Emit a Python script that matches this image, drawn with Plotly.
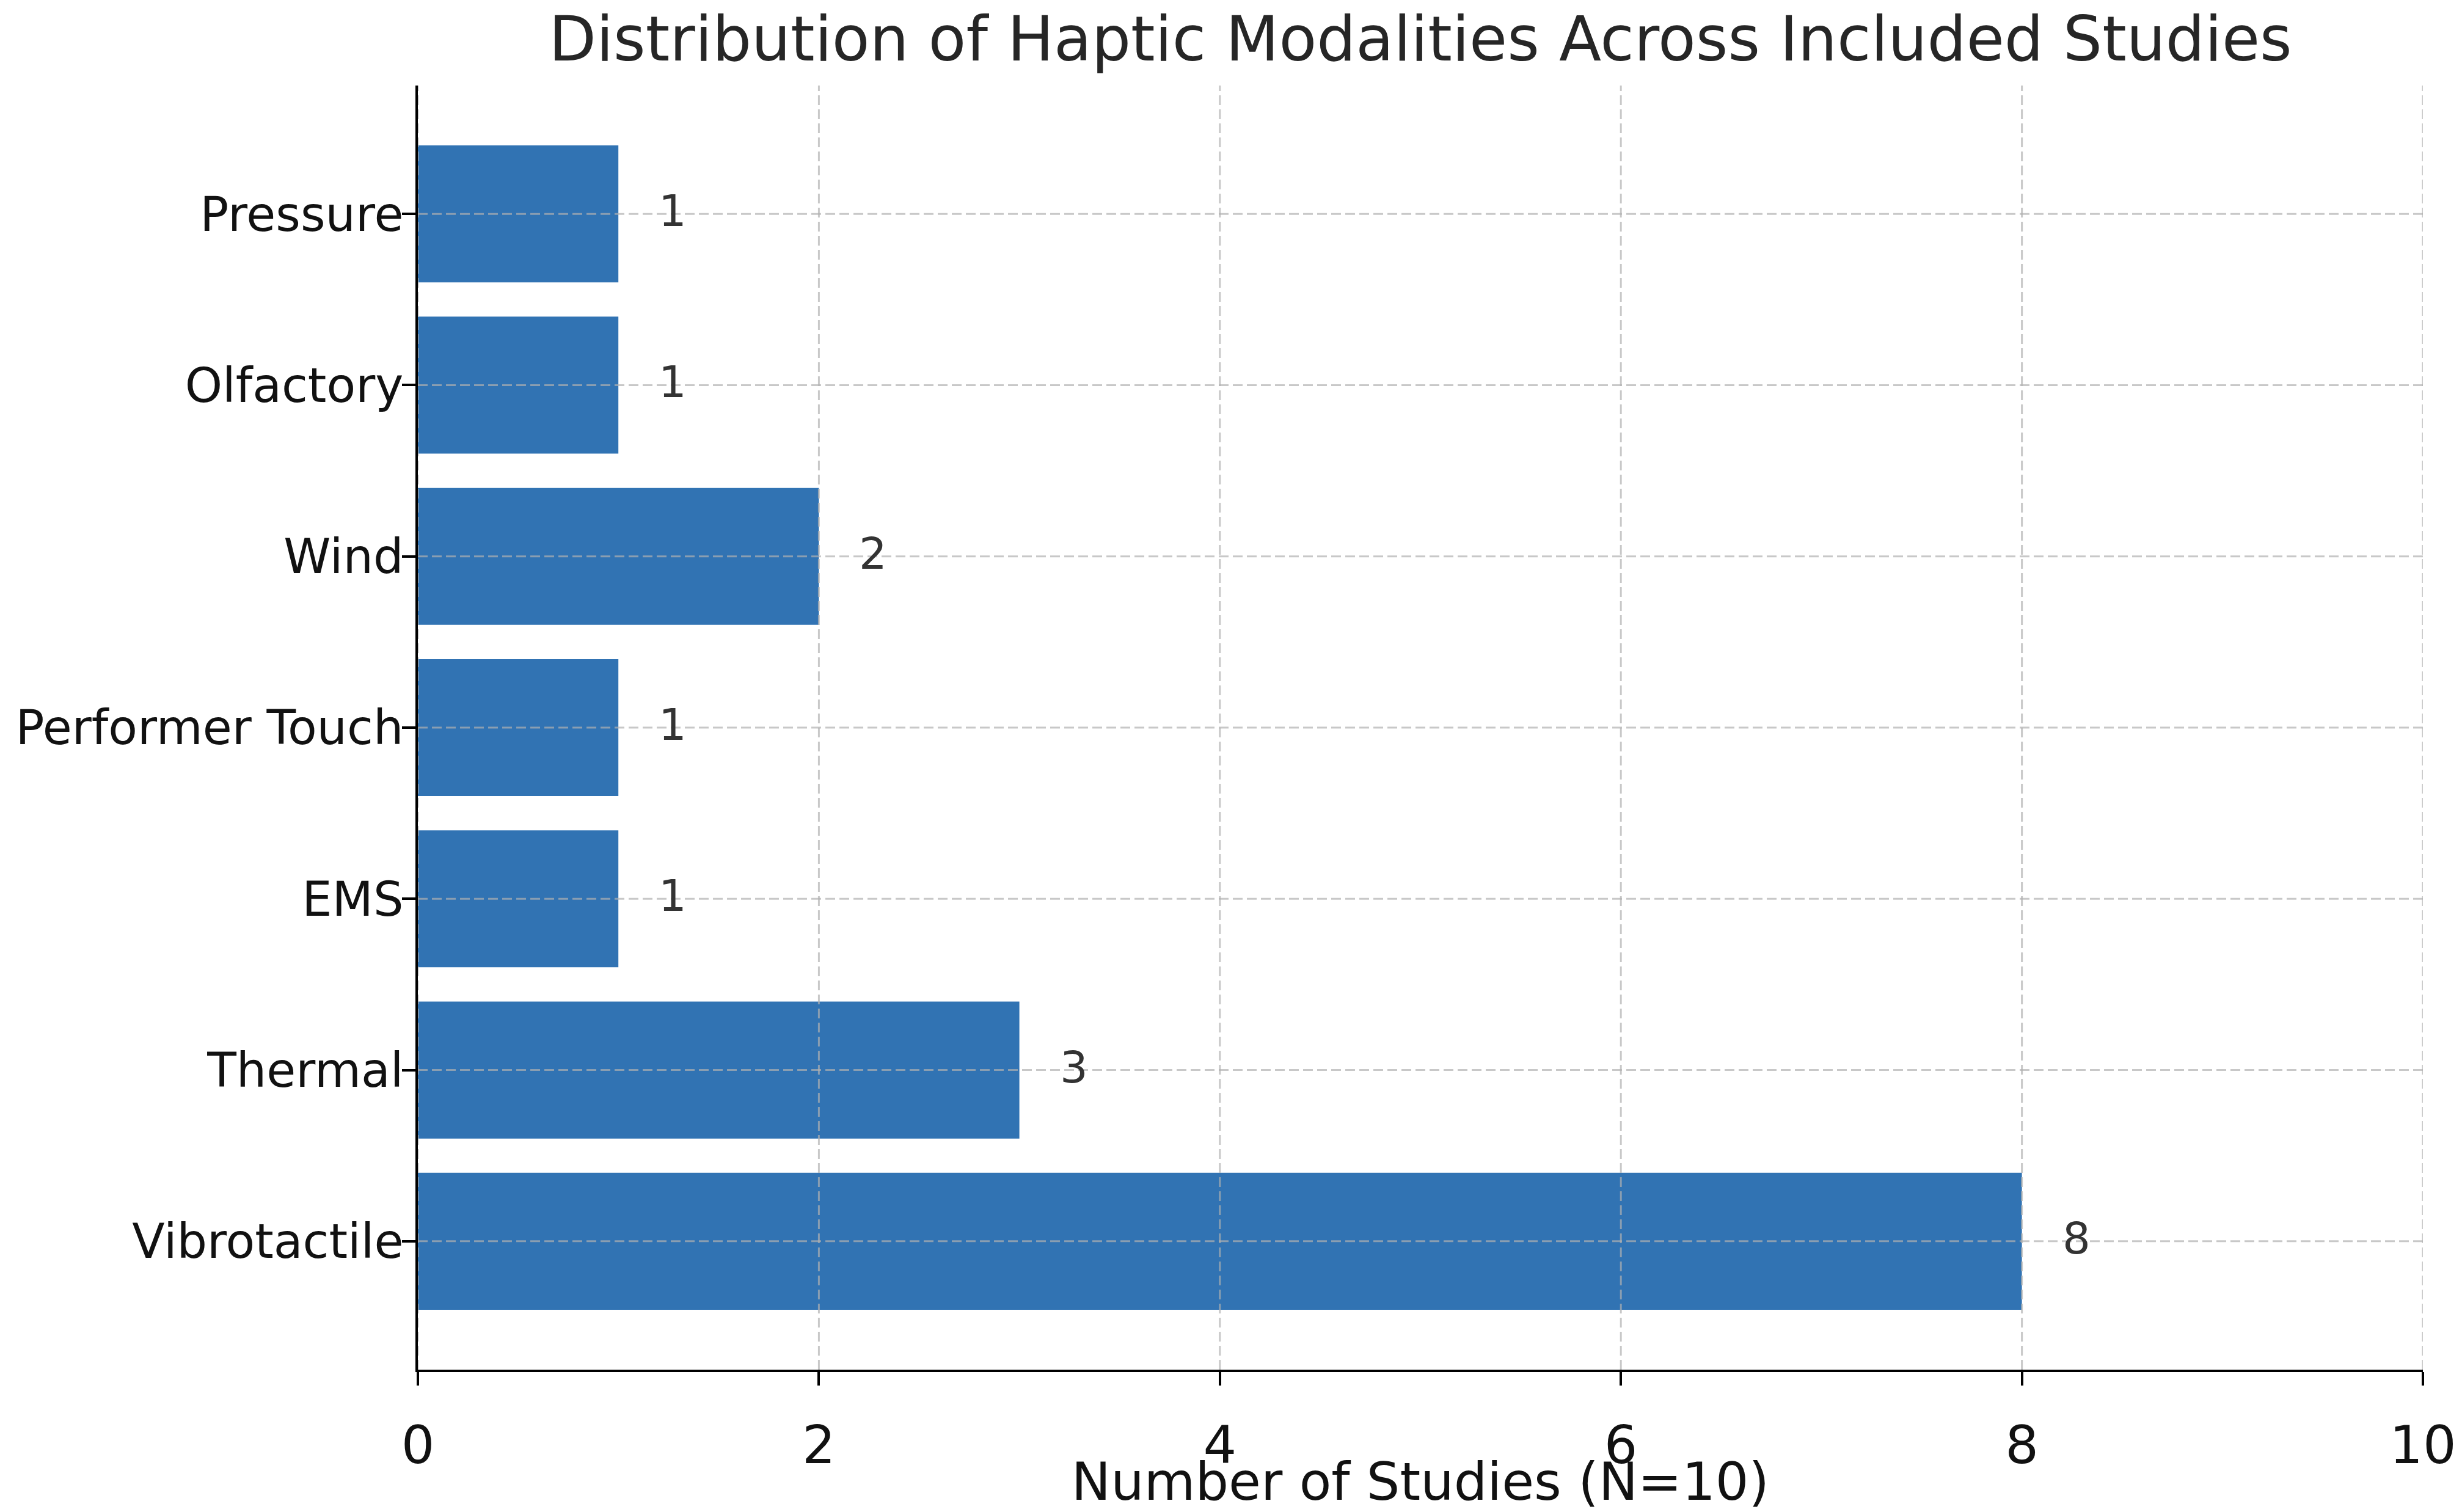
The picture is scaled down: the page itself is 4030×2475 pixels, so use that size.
import plotly.graph_objects as go

categories = ["Vibrotactile", "Thermal", "EMS", "Performer Touch", "Wind", "Olfactory", "Pressure"]
counts = [8, 3, 1, 1, 2, 1, 1]
x_ticks = [0, 2, 4, 6, 8, 10]

BAR_COLOR = "#3173b3"
GRID_COLOR = "rgba(176,176,176,0.7)"
FONT = "DejaVu Sans"

W, H = 4030, 2475
M_L, M_R, M_T, M_B = 684, 64, 140, 233

fig = go.Figure()
fig.add_trace(go.Bar(
    y=categories, x=counts, orientation="h", width=0.8,
    marker=dict(color=BAR_COLOR, line=dict(width=0)),
    hoverinfo="skip",
))

shapes = []
for t in x_ticks:
    shapes.append(dict(type="line", xref="x", yref="paper", x0=t, x1=t, y0=0, y1=1,
                       layer="above", line=dict(color=GRID_COLOR, width=3, dash="16px,7px")))
for i, _ in enumerate(categories):
    shapes.append(dict(type="line", xref="paper", yref="y", x0=0, x1=1, y0=i, y1=i,
                       layer="above", line=dict(color=GRID_COLOR, width=3, dash="16px,7px")))

annotations = []
for i, v in enumerate(counts):
    annotations.append(dict(x=v + 0.195, y=i, xref="x", yref="y", text=str(v), showarrow=False,
                            xanchor="left", yanchor="middle", yshift=5,
                            font=dict(family=FONT, size=72, color="#333333")))

fig.update_layout(
    width=W, height=H,
    margin=dict(l=M_L, r=M_R, t=M_T, b=M_B, pad=0, autoexpand=False),
    paper_bgcolor="white", plot_bgcolor="white",
    showlegend=False,
    shapes=shapes, annotations=annotations,
    title=dict(text="Distribution of Haptic Modalities Across Included Studies",
               x=(M_L + W - M_R) / 2 / W, xanchor="center", xref="container",
               y=1 - 64 / H, yanchor="middle", yref="container",
               font=dict(family=FONT, size=101, color="#262626")),
    font=dict(family=FONT, color="#111111"),
)
fig.update_xaxes(
    automargin=False,
    range=[0, 10], tickvals=x_ticks, showgrid=False, zeroline=False,
    showline=True, linecolor="black", linewidth=4,
    ticks="outside", ticklen=22, tickwidth=4, tickcolor="black",
    ticklabelstandoff=24,
    tickfont=dict(family=FONT, size=86, color="#111111"),
    title=dict(text="Number of Studies (N=10)", standoff=6,
               font=dict(family=FONT, size=86, color="#111111")),
)
fig.update_yaxes(
    automargin=False,
    type="category", categoryorder="array", categoryarray=categories,
    range=[-0.75, 6.75], showgrid=False, zeroline=False,
    showline=True, linecolor="black", linewidth=4,
    ticks="outside", ticklen=22, tickwidth=4, tickcolor="black",
    ticklabelstandoff=-18,
    tickfont=dict(family=FONT, size=78, color="#111111"),
)

fig.write_html("out.html", config={"displayModeBar": False},
               post_script="document.body.style.margin='0';")
